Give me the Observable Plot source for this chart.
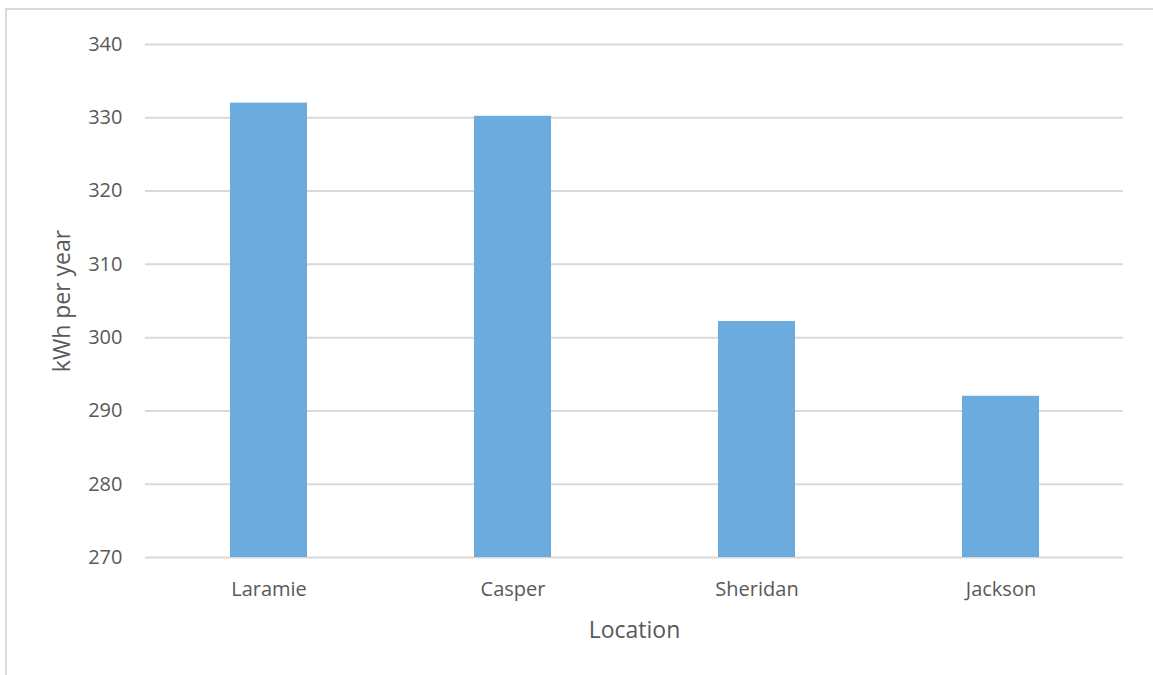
<!DOCTYPE html>
<html>
<head>
<meta charset="utf-8">
<script src="https://cdn.jsdelivr.net/npm/d3@7"></script>
<script src="https://cdn.jsdelivr.net/npm/@observablehq/plot@0.6"></script>
<style>
  html, body { margin: 0; padding: 0; background: #fff; }
  #wrap { position: relative; width: 1153px; height: 675px; overflow: hidden; }
  #frame { position: absolute; left: 5px; top: 8px; width: 1200px; height: 700px;
           border-top: 2px solid #d9d9d9; border-left: 2px solid #d9d9d9; box-sizing: border-box; }
  #chart { position: absolute; left: 0; top: 0; }
</style>
</head>
<body>
<div id="wrap"><div id="frame"></div><div id="chart"></div></div>
<script>
const locations = ["Laramie", "Casper", "Sheridan", "Jackson"];
const kwhPerYear = [332, 330.2, 302.2, 292];
const yTicks = [270, 280, 290, 300, 310, 320, 330, 340];

const data = locations.map((loc, i) => ({location: loc, kwh: kwhPerYear[i]}));

const chart = Plot.plot({
  width: 1153,
  height: 675,
  marginLeft: 145,
  marginRight: 30,
  marginTop: 44,
  marginBottom: 118,
  style: {fontFamily: "'Open Sans', sans-serif", color: "#595959", background: "transparent"},
  x: {domain: locations, paddingInner: 0.685, paddingOuter: 0.3425, label: null},
  y: {domain: [270, 340], label: null},
  marks: [
    Plot.ruleY(yTicks, {stroke: "#d9d9d9", strokeWidth: 2}),
    Plot.barY(data, {x: "location", y1: 270, y2: "kwh", fill: "#6cabdd"}),
    Plot.axisY(yTicks, {tickSize: 0, tickPadding: 23, fontSize: 20, label: "kWh per year",
      labelAnchor: "center", labelOffset: 92, labelArrow: "none"}),
    Plot.axisX({tickSize: 0, tickPadding: 24, fontSize: 20, label: "Location",
      labelAnchor: "center", labelOffset: 80, labelArrow: "none"})
  ]
});
chart.querySelectorAll("[aria-label='y-axis label'], [aria-label='x-axis label']").forEach(g => g.setAttribute("font-size", 23));
document.getElementById("chart").appendChild(chart);
</script>
</body>
</html>
